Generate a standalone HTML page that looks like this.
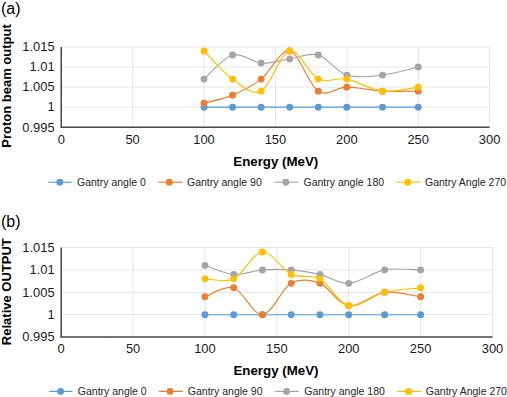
<!DOCTYPE html>
<html><head><meta charset="utf-8"><style>
html,body{margin:0;padding:0;background:#fff;}
svg{display:block;}
text{font-family:"Liberation Sans",sans-serif;}
.tick{font-size:12.9px;fill:#1a1a1a;}
.title{font-size:13.3px;font-weight:bold;fill:#000;}
.ytitle{font-size:13px;}
.panel{font-size:16px;fill:#000;}
.leg{font-size:10.5px;fill:#262626;}
</style></head><body>
<svg width="507" height="397" viewBox="0 0 507 397">
<rect width="507" height="397" fill="#fff"/>
<line x1="61.25" y1="47.00" x2="489.6" y2="47.00" stroke="#E6E6E6" stroke-width="1"/>
<line x1="61.25" y1="67.06" x2="489.6" y2="67.06" stroke="#E6E6E6" stroke-width="1"/>
<line x1="61.25" y1="87.12" x2="489.6" y2="87.12" stroke="#E6E6E6" stroke-width="1"/>
<line x1="61.25" y1="107.19" x2="489.6" y2="107.19" stroke="#E6E6E6" stroke-width="1"/>
<line x1="132.64" y1="47" x2="132.64" y2="127.25" stroke="#E6E6E6" stroke-width="1"/>
<line x1="204.03" y1="47" x2="204.03" y2="127.25" stroke="#E6E6E6" stroke-width="1"/>
<line x1="275.43" y1="47" x2="275.43" y2="127.25" stroke="#E6E6E6" stroke-width="1"/>
<line x1="346.82" y1="47" x2="346.82" y2="127.25" stroke="#E6E6E6" stroke-width="1"/>
<line x1="418.21" y1="47" x2="418.21" y2="127.25" stroke="#E6E6E6" stroke-width="1"/>
<line x1="489.60" y1="47" x2="489.60" y2="127.25" stroke="#E6E6E6" stroke-width="1"/>
<line x1="61.25" y1="47" x2="61.25" y2="127.25" stroke="#474747" stroke-width="1.5"/>
<line x1="60.5" y1="127.25" x2="489.6" y2="127.25" stroke="#474747" stroke-width="1.5"/>
<text x="54.6" y="51.30" text-anchor="end" class="tick">1.015</text>
<text x="54.6" y="71.36" text-anchor="end" class="tick">1.01</text>
<text x="54.6" y="91.42" text-anchor="end" class="tick">1.005</text>
<text x="54.6" y="111.49" text-anchor="end" class="tick">1</text>
<text x="54.6" y="131.55" text-anchor="end" class="tick">0.995</text>
<text x="61.25" y="143.9" text-anchor="middle" class="tick">0</text>
<text x="132.64" y="143.9" text-anchor="middle" class="tick">50</text>
<text x="204.03" y="143.9" text-anchor="middle" class="tick">100</text>
<text x="275.43" y="143.9" text-anchor="middle" class="tick">150</text>
<text x="346.82" y="143.9" text-anchor="middle" class="tick">200</text>
<text x="418.21" y="143.9" text-anchor="middle" class="tick">250</text>
<text x="489.60" y="143.9" text-anchor="middle" class="tick">300</text>
<path d="M204.03,107.19 C208.79,107.19 223.07,107.19 232.59,107.19 C242.11,107.19 251.63,107.19 261.15,107.19 C270.67,107.19 280.18,107.19 289.70,107.19 C299.22,107.19 308.74,107.19 318.26,107.19 C327.78,107.19 336.11,107.19 346.82,107.19 C357.53,107.19 370.61,107.19 382.51,107.19 C394.41,107.19 412.26,107.19 418.21,107.19" fill="none" stroke="#5B9BD5" stroke-width="1.15"/>
<circle cx="204.03" cy="107.19" r="3.45" fill="#5B9BD5"/>
<circle cx="232.59" cy="107.19" r="3.45" fill="#5B9BD5"/>
<circle cx="261.15" cy="107.19" r="3.45" fill="#5B9BD5"/>
<circle cx="289.70" cy="107.19" r="3.45" fill="#5B9BD5"/>
<circle cx="318.26" cy="107.19" r="3.45" fill="#5B9BD5"/>
<circle cx="346.82" cy="107.19" r="3.45" fill="#5B9BD5"/>
<circle cx="382.51" cy="107.19" r="3.45" fill="#5B9BD5"/>
<circle cx="418.21" cy="107.19" r="3.45" fill="#5B9BD5"/>
<path d="M204.03,103.18 C208.79,101.84 223.07,99.16 232.59,95.15 C242.11,91.14 251.63,86.46 261.15,79.10 C270.67,71.74 280.18,49.01 289.70,51.01 C299.22,53.02 308.74,85.12 318.26,91.14 C327.78,97.16 336.11,87.13 346.82,87.13 C357.53,87.13 370.61,90.47 382.51,91.14 C394.41,91.81 412.26,91.14 418.21,91.14" fill="none" stroke="#ED7D31" stroke-width="1.15"/>
<circle cx="204.03" cy="103.18" r="3.45" fill="#ED7D31"/>
<circle cx="232.59" cy="95.15" r="3.45" fill="#ED7D31"/>
<circle cx="261.15" cy="79.10" r="3.45" fill="#ED7D31"/>
<circle cx="289.70" cy="51.01" r="3.45" fill="#ED7D31"/>
<circle cx="318.26" cy="91.14" r="3.45" fill="#ED7D31"/>
<circle cx="346.82" cy="87.13" r="3.45" fill="#ED7D31"/>
<circle cx="382.51" cy="91.14" r="3.45" fill="#ED7D31"/>
<circle cx="418.21" cy="91.14" r="3.45" fill="#ED7D31"/>
<path d="M204.03,79.10 C208.79,75.09 223.07,57.70 232.59,55.03 C242.11,52.35 251.63,62.38 261.15,63.05 C270.67,63.72 280.18,60.37 289.70,59.04 C299.22,57.70 308.74,52.35 318.26,55.03 C327.78,57.70 336.11,71.74 346.82,75.09 C357.53,78.43 370.61,76.42 382.51,75.09 C394.41,73.75 412.26,68.40 418.21,67.06" fill="none" stroke="#A5A5A5" stroke-width="1.15"/>
<circle cx="204.03" cy="79.10" r="3.45" fill="#A5A5A5"/>
<circle cx="232.59" cy="55.03" r="3.45" fill="#A5A5A5"/>
<circle cx="261.15" cy="63.05" r="3.45" fill="#A5A5A5"/>
<circle cx="289.70" cy="59.04" r="3.45" fill="#A5A5A5"/>
<circle cx="318.26" cy="55.03" r="3.45" fill="#A5A5A5"/>
<circle cx="346.82" cy="75.09" r="3.45" fill="#A5A5A5"/>
<circle cx="382.51" cy="75.09" r="3.45" fill="#A5A5A5"/>
<circle cx="418.21" cy="67.06" r="3.45" fill="#A5A5A5"/>
<path d="M204.03,51.01 C208.79,55.69 223.07,72.41 232.59,79.10 C242.11,85.79 251.63,95.82 261.15,91.14 C270.67,86.46 280.18,53.02 289.70,51.01 C299.22,49.01 308.74,74.42 318.26,79.10 C327.78,83.78 336.11,77.09 346.82,79.10 C357.53,81.11 370.61,89.80 382.51,91.14 C394.41,92.47 412.26,87.79 418.21,87.13" fill="none" stroke="#FFC000" stroke-width="1.15"/>
<circle cx="204.03" cy="51.01" r="3.45" fill="#FFC000"/>
<circle cx="232.59" cy="79.10" r="3.45" fill="#FFC000"/>
<circle cx="261.15" cy="91.14" r="3.45" fill="#FFC000"/>
<circle cx="289.70" cy="51.01" r="3.45" fill="#FFC000"/>
<circle cx="318.26" cy="79.10" r="3.45" fill="#FFC000"/>
<circle cx="346.82" cy="79.10" r="3.45" fill="#FFC000"/>
<circle cx="382.51" cy="91.14" r="3.45" fill="#FFC000"/>
<circle cx="418.21" cy="87.13" r="3.45" fill="#FFC000"/>
<text x="275.82" y="165.7" text-anchor="middle" class="title">Energy (MeV)</text>
<text transform="translate(10.5,86) rotate(-90)" text-anchor="middle" class="title ytitle">Proton beam output</text>
<text x="1" y="13.9" class="panel">(a)</text>
<line x1="48.3" y1="182.2" x2="71.6" y2="182.2" stroke="#5B9BD5" stroke-width="1.15"/>
<circle cx="59.8" cy="182.2" r="3.45" fill="#5B9BD5"/>
<text x="77" y="185.80" class="leg">Gantry angle 0</text>
<line x1="158.3" y1="182.2" x2="182.1" y2="182.2" stroke="#ED7D31" stroke-width="1.15"/>
<circle cx="169.3" cy="182.2" r="3.45" fill="#ED7D31"/>
<text x="187" y="185.80" class="leg">Gantry angle 90</text>
<line x1="274.3" y1="182.2" x2="298.1" y2="182.2" stroke="#A5A5A5" stroke-width="1.15"/>
<circle cx="285.8" cy="182.2" r="3.45" fill="#A5A5A5"/>
<text x="303.5" y="185.80" class="leg">Gantry angle 180</text>
<line x1="396.3" y1="182.2" x2="420.1" y2="182.2" stroke="#FFC000" stroke-width="1.15"/>
<circle cx="407.8" cy="182.2" r="3.45" fill="#FFC000"/>
<text x="425" y="185.80" class="leg">Gantry Angle 270</text>
<line x1="61.2" y1="247.50" x2="492.5" y2="247.50" stroke="#E6E6E6" stroke-width="1"/>
<line x1="61.2" y1="269.90" x2="492.5" y2="269.90" stroke="#E6E6E6" stroke-width="1"/>
<line x1="61.2" y1="292.30" x2="492.5" y2="292.30" stroke="#E6E6E6" stroke-width="1"/>
<line x1="61.2" y1="314.70" x2="492.5" y2="314.70" stroke="#E6E6E6" stroke-width="1"/>
<line x1="133.08" y1="247.5" x2="133.08" y2="337.1" stroke="#E6E6E6" stroke-width="1"/>
<line x1="204.97" y1="247.5" x2="204.97" y2="337.1" stroke="#E6E6E6" stroke-width="1"/>
<line x1="276.85" y1="247.5" x2="276.85" y2="337.1" stroke="#E6E6E6" stroke-width="1"/>
<line x1="348.73" y1="247.5" x2="348.73" y2="337.1" stroke="#E6E6E6" stroke-width="1"/>
<line x1="420.62" y1="247.5" x2="420.62" y2="337.1" stroke="#E6E6E6" stroke-width="1"/>
<line x1="492.50" y1="247.5" x2="492.50" y2="337.1" stroke="#E6E6E6" stroke-width="1"/>
<line x1="61.2" y1="247.5" x2="61.2" y2="337.1" stroke="#474747" stroke-width="1.5"/>
<line x1="60.45" y1="337.1" x2="492.5" y2="337.1" stroke="#474747" stroke-width="1.5"/>
<text x="54.6" y="251.80" text-anchor="end" class="tick">1.015</text>
<text x="54.6" y="274.20" text-anchor="end" class="tick">1.01</text>
<text x="54.6" y="296.60" text-anchor="end" class="tick">1.005</text>
<text x="54.6" y="319.00" text-anchor="end" class="tick">1</text>
<text x="54.6" y="341.40" text-anchor="end" class="tick">0.995</text>
<text x="61.20" y="352.7" text-anchor="middle" class="tick">0</text>
<text x="133.08" y="352.7" text-anchor="middle" class="tick">50</text>
<text x="204.97" y="352.7" text-anchor="middle" class="tick">100</text>
<text x="276.85" y="352.7" text-anchor="middle" class="tick">150</text>
<text x="348.73" y="352.7" text-anchor="middle" class="tick">200</text>
<text x="420.62" y="352.7" text-anchor="middle" class="tick">250</text>
<text x="492.50" y="352.7" text-anchor="middle" class="tick">300</text>
<path d="M204.97,314.70 C209.76,314.70 224.14,314.70 233.72,314.70 C243.30,314.70 252.89,314.70 262.47,314.70 C272.06,314.70 281.64,314.70 291.23,314.70 C300.81,314.70 310.40,314.70 319.98,314.70 C329.56,314.70 337.95,314.70 348.73,314.70 C359.52,314.70 372.69,314.70 384.68,314.70 C396.66,314.70 414.63,314.70 420.62,314.70" fill="none" stroke="#5B9BD5" stroke-width="1.15"/>
<circle cx="204.97" cy="314.70" r="3.45" fill="#5B9BD5"/>
<circle cx="233.72" cy="314.70" r="3.45" fill="#5B9BD5"/>
<circle cx="262.47" cy="314.70" r="3.45" fill="#5B9BD5"/>
<circle cx="291.23" cy="314.70" r="3.45" fill="#5B9BD5"/>
<circle cx="319.98" cy="314.70" r="3.45" fill="#5B9BD5"/>
<circle cx="348.73" cy="314.70" r="3.45" fill="#5B9BD5"/>
<circle cx="384.68" cy="314.70" r="3.45" fill="#5B9BD5"/>
<circle cx="420.62" cy="314.70" r="3.45" fill="#5B9BD5"/>
<path d="M204.97,296.78 C209.76,295.29 224.14,284.83 233.72,287.82 C243.30,290.81 252.89,315.45 262.47,314.70 C272.06,313.95 281.64,288.57 291.23,283.34 C300.81,278.11 310.40,279.61 319.98,283.34 C329.56,287.07 337.95,304.25 348.73,305.74 C359.52,307.23 372.69,293.79 384.68,292.30 C396.66,290.81 414.63,296.03 420.62,296.78" fill="none" stroke="#ED7D31" stroke-width="1.15"/>
<circle cx="204.97" cy="296.78" r="3.45" fill="#ED7D31"/>
<circle cx="233.72" cy="287.82" r="3.45" fill="#ED7D31"/>
<circle cx="262.47" cy="314.70" r="3.45" fill="#ED7D31"/>
<circle cx="291.23" cy="283.34" r="3.45" fill="#ED7D31"/>
<circle cx="319.98" cy="283.34" r="3.45" fill="#ED7D31"/>
<circle cx="348.73" cy="305.74" r="3.45" fill="#ED7D31"/>
<circle cx="384.68" cy="292.30" r="3.45" fill="#ED7D31"/>
<circle cx="420.62" cy="296.78" r="3.45" fill="#ED7D31"/>
<path d="M204.97,265.42 C209.76,266.91 224.14,273.63 233.72,274.38 C243.30,275.13 252.89,270.65 262.47,269.90 C272.06,269.15 281.64,269.15 291.23,269.90 C300.81,270.65 310.40,272.14 319.98,274.38 C329.56,276.62 337.95,284.09 348.73,283.34 C359.52,282.59 372.69,272.14 384.68,269.90 C396.66,267.66 414.63,269.90 420.62,269.90" fill="none" stroke="#A5A5A5" stroke-width="1.15"/>
<circle cx="204.97" cy="265.42" r="3.45" fill="#A5A5A5"/>
<circle cx="233.72" cy="274.38" r="3.45" fill="#A5A5A5"/>
<circle cx="262.47" cy="269.90" r="3.45" fill="#A5A5A5"/>
<circle cx="291.23" cy="269.90" r="3.45" fill="#A5A5A5"/>
<circle cx="319.98" cy="274.38" r="3.45" fill="#A5A5A5"/>
<circle cx="348.73" cy="283.34" r="3.45" fill="#A5A5A5"/>
<circle cx="384.68" cy="269.90" r="3.45" fill="#A5A5A5"/>
<circle cx="420.62" cy="269.90" r="3.45" fill="#A5A5A5"/>
<path d="M204.97,278.86 C209.76,278.86 224.14,283.34 233.72,278.86 C243.30,274.38 252.89,252.73 262.47,251.98 C272.06,251.23 281.64,269.90 291.23,274.38 C300.81,278.86 310.40,273.63 319.98,278.86 C329.56,284.09 337.95,303.50 348.73,305.74 C359.52,307.98 372.69,295.29 384.68,292.30 C396.66,289.31 414.63,288.57 420.62,287.82" fill="none" stroke="#FFC000" stroke-width="1.15"/>
<circle cx="204.97" cy="278.86" r="3.45" fill="#FFC000"/>
<circle cx="233.72" cy="278.86" r="3.45" fill="#FFC000"/>
<circle cx="262.47" cy="251.98" r="3.45" fill="#FFC000"/>
<circle cx="291.23" cy="274.38" r="3.45" fill="#FFC000"/>
<circle cx="319.98" cy="278.86" r="3.45" fill="#FFC000"/>
<circle cx="348.73" cy="305.74" r="3.45" fill="#FFC000"/>
<circle cx="384.68" cy="292.30" r="3.45" fill="#FFC000"/>
<circle cx="420.62" cy="287.82" r="3.45" fill="#FFC000"/>
<text x="275.95" y="374.7" text-anchor="middle" class="title">Energy (MeV)</text>
<text transform="translate(10.5,291.7) rotate(-90)" text-anchor="middle" class="title ytitle">Relative OUTPUT</text>
<text x="1" y="226.7" class="panel">(b)</text>
<line x1="49.099999999999994" y1="391.4" x2="72.39999999999999" y2="391.4" stroke="#5B9BD5" stroke-width="1.15"/>
<circle cx="60.599999999999994" cy="391.4" r="3.45" fill="#5B9BD5"/>
<text x="77.8" y="395.00" class="leg">Gantry angle 0</text>
<line x1="159.10000000000002" y1="391.4" x2="182.9" y2="391.4" stroke="#ED7D31" stroke-width="1.15"/>
<circle cx="170.10000000000002" cy="391.4" r="3.45" fill="#ED7D31"/>
<text x="187.8" y="395.00" class="leg">Gantry angle 90</text>
<line x1="275.1" y1="391.4" x2="298.90000000000003" y2="391.4" stroke="#A5A5A5" stroke-width="1.15"/>
<circle cx="286.6" cy="391.4" r="3.45" fill="#A5A5A5"/>
<text x="304.3" y="395.00" class="leg">Gantry angle 180</text>
<line x1="397.1" y1="391.4" x2="420.90000000000003" y2="391.4" stroke="#FFC000" stroke-width="1.15"/>
<circle cx="408.6" cy="391.4" r="3.45" fill="#FFC000"/>
<text x="425.8" y="395.00" class="leg">Gantry Angle 270</text>
</svg>
</body></html>
